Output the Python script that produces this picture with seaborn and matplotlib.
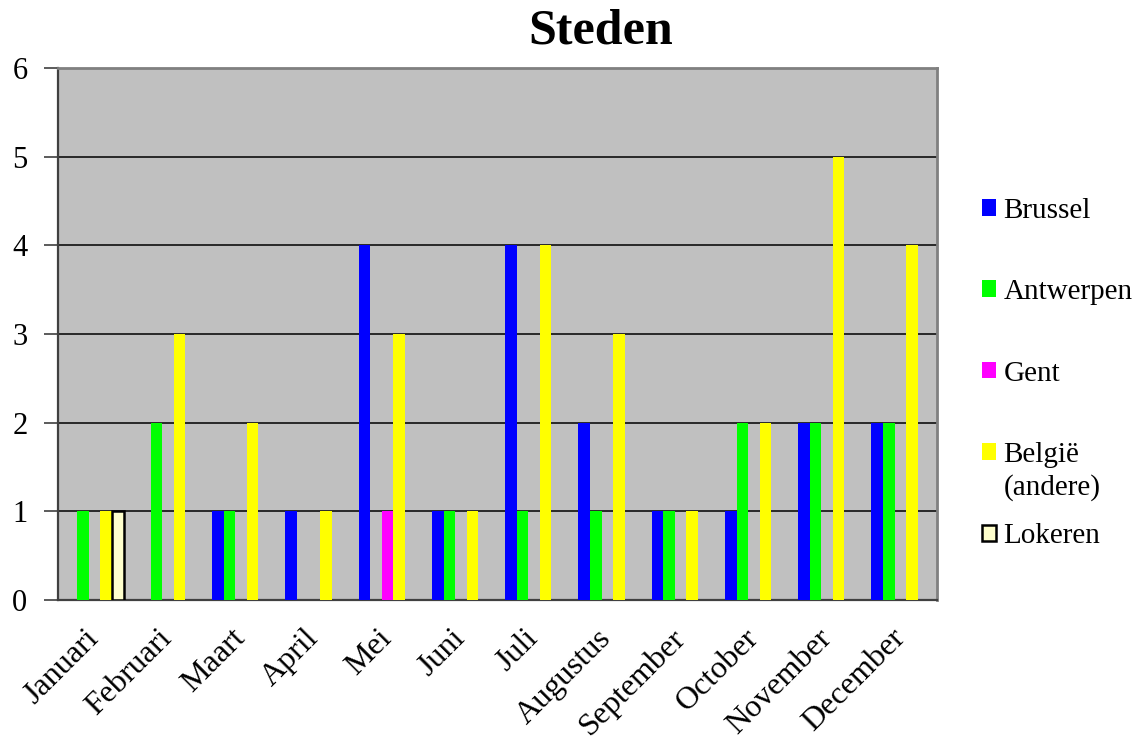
import matplotlib
matplotlib.use("Agg")
import matplotlib.pyplot as plt
import numpy as np
import pandas as pd
import seaborn as sns
from matplotlib.patches import Patch

months = ["Januari", "Februari", "Maart", "April", "Mei", "Juni", "Juli",
          "Augustus", "September", "October", "November", "December"]
brussel = [0, 0, 1, 1, 4, 1, 4, 2, 1, 1, 2, 2]
antwerpen = [1, 2, 1, 0, 0, 1, 1, 1, 1, 2, 2, 2]
gent = [0, 0, 0, 0, 1, 0, 0, 0, 0, 0, 0, 0]
belgie = [1, 3, 2, 1, 3, 1, 4, 3, 1, 2, 5, 4]
lokeren = [1, 0, 0, 0, 0, 0, 0, 0, 0, 0, 0, 0]
series = ["Brussel", "Antwerpen", "Gent", "België", "Lokeren"]
colors = ["#0000FF", "#00FF00", "#FF00FF", "#FFFF00", "#FFFFCC"]

df = pd.DataFrame({"maand": months * 5,
                   "stad": np.repeat(series, 12),
                   "aantal": brussel + antwerpen + gent + belgie + lokeren})

sns.set_style("white")
plt.rcParams["font.family"] = ["Liberation Serif", "DejaVu Serif"]
plt.rcParams["text.color"] = "black"
plt.rcParams["xtick.labelcolor"] = "black"
plt.rcParams["ytick.labelcolor"] = "black"

fig = plt.figure(figsize=(11.37, 7.47), dpi=100)
ax = fig.add_axes([58 / 1137, 1 - 600 / 747, 879 / 1137, 532 / 747])
ax.set_facecolor("#C0C0C0")

sns.barplot(data=df, x="maand", y="aantal", hue="stad", hue_order=series,
            palette=colors, width=0.79, saturation=1, ax=ax, legend=False,
            linewidth=0, zorder=3)

# Lokeren bars get a black outline
for bar in ax.containers[4]:
    if bar.get_height() > 0:
        bar.set_edgecolor("black")
        bar.set_linewidth(1.8)

ax.set_xlim(-0.5, 11.5)
ax.set_ylim(0, 6)
ax.set_yticks(range(7))
ax.set_yticklabels([str(i) for i in range(7)], fontsize=22)
ax.yaxis.grid(True, color="black", linewidth=1.1, zorder=1)
ax.set_axisbelow(True)
ax.set_xlabel("")
ax.set_ylabel("")

# labels sit a little left of the group centre, ticks mark the group edges
ax.set_xticks(np.arange(12) - 0.14)
ax.set_xticklabels(months, rotation=45, ha="right", rotation_mode="anchor",
                   fontsize=23)
ax.set_xticks(np.arange(-0.5, 12, 1), minor=True)
ax.tick_params(axis="x", which="major", length=0, pad=17)
ax.tick_params(axis="x", which="minor", length=10, width=1.2, color="#404040")
ax.tick_params(axis="y", length=10, width=1.2, color="#404040", pad=12, left=True)

for side in ["left", "bottom"]:
    ax.spines[side].set_color("#404040")
    ax.spines[side].set_linewidth(1.6)
for side in ["top", "right"]:
    ax.spines[side].set_color("#808080")
    ax.spines[side].set_linewidth(2)
    ax.spines[side].set_visible(True)

fig.text(601 / 1137, 1 - 32 / 747, "Steden", fontsize=36, fontweight="bold",
         ha="center", va="center")

handles = [Patch(facecolor=c, edgecolor="black" if s == "Lokeren" else c,
                 linewidth=1.8 if s == "Lokeren" else 0) for s, c in zip(series, colors)]
leg = fig.legend(handles, series, loc="upper left",
                 bbox_to_anchor=(970 / 1137, 1 - 186 / 747), frameon=False,
                 fontsize=21, handlelength=0.5, handleheight=0.5,
                 handletextpad=0.25, labelspacing=1.9, borderaxespad=0)

fig.canvas.draw()
txt = leg.get_texts()[3]
bb = txt.get_window_extent()
fig.text(bb.x0 / fig.bbox.width, (bb.y0 - 6) / fig.bbox.height, "(andere)",
         fontsize=21, ha="left", va="top")

fig.savefig("out.png", dpi=100)
